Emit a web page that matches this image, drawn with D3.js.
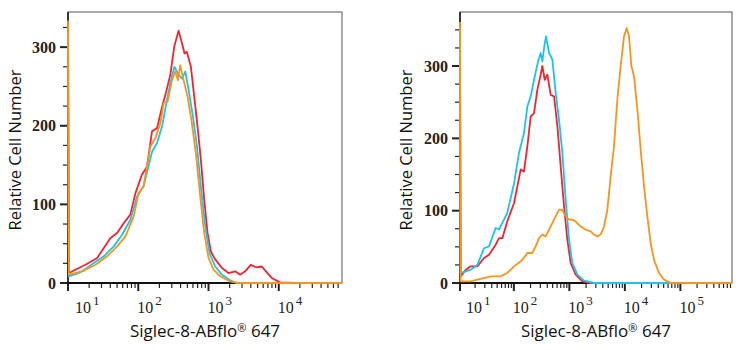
<!DOCTYPE html>
<html>
<head>
<meta charset="utf-8">
<script src="https://cdn.jsdelivr.net/npm/d3@7"></script>
<style>
  body { margin: 0; background: #fff; }
  svg { display: block; }
</style>
</head>
<body>
<svg id="chart" width="742" height="350"></svg>
<script>
// histogram data: [intensity, relative cell number]
const leftRed = [[10,330],[10.3,12.7],[17.7,23.3],[26,31.8],[40,57],[50,63.5],[62,76],[77,87],[91,114],[113,138],[133,148],[157,193],[185,197],[218,224],[243,239],[286,265],[326,301],[375,321],[419,305],[456,292],[492,294],[561,275],[626,237],[698,199],[778,157],[868,106],[968,64],[1080,40],[1244,30],[1548,19],[1925,12.7],[2393,14.8],[2818,10.6],[3318,14.8],[3990,23],[4746,20],[5727,21],[6745,13.5],[7940,6.4],[10420,0.8],[16140,0],[79000,0]];
const leftCyan = [[10,320],[10.3,8.5],[15,13.5],[23.3,25.4],[32.3,34],[44.8,46.6],[58.8,61.4],[77.3,80.5],[96,110],[119,123],[157,167],[185,178],[218,199],[256,233],[286,254],[326,275],[375,265],[419,260],[467,269],[520,246],[600,212],[684,174],[778,123],[898,72],[1035,38],[1244,21],[1548,10.6],[2032,3.4],[2529,0],[79000,0]];
const leftOrange = [[10,334],[10.3,10.6],[15.9,14.8],[24.6,23.3],[36,34],[50,46.6],[65.6,59.3],[86,84.7],[101,114],[119,123],[149,174],[175,184],[206,203],[230,229],[262,231],[302,258],[337,269],[367,258],[396,277],[442,258],[504,237],[580,203],[668,161],[762,110],[868,64],[1000,32],[1180,17],[1466,8.5],[2032,2],[2672,0],[79000,0]];

const rightRed = [[10.7,350],[11,9.2],[13.6,18.4],[16.7,23],[22,23],[29,34.6],[35.7,39],[47,53],[54,62],[62,62],[76,85],[101,110.6],[133,157],[152,154],[175,189],[201,230],[231,235],[265,267],[304,288],[326,300],[360,281],[402,288],[461,260],[530,258],[608,217],[698,161],[802,106],[920,60],[1057,27.6],[1300,11.5],[1714,2.3],[2421,0],[851000,0]];
const rightCyan = [[10.7,355],[11,13.8],[13.6,16],[16.7,18.4],[22,25],[29,48],[35.7,50.7],[47,76],[54,74],[66.5,87.6],[76,96.8],[101,138],[124,180],[152,207],[175,244],[201,258],[231,281],[272,306],[304,318],[326,306],[350,325],[380,341],[431,318],[494,309],[567,263],[651,226],[748,180],[859,115],[986,60],[1132,27.6],[1393,11.5],[1836,3.2],[2780,0],[851000,0]];
const rightOrange = [[10.7,361],[11,2.3],[16.7,2.3],[22,4.6],[29,6.9],[38,9.2],[58,9.2],[76,13.8],[101,23],[133,30],[152,34.6],[175,41.5],[215,41.5],[247,50.7],[284,62],[326,67],[375,64.5],[431,73.7],[494,83],[567,92],[651,101],[748,101],[859,92],[986,87.6],[1132,87.6],[1300,85],[1600,78],[1968,73.7],[2421,71.4],[2780,67],[3190,64.5],[3660,67],[4207,78],[4830,101],[5546,147],[6368,189],[7311,253],[8395,300],[9660,341],[10790,352.5],[11890,341],[13090,300],[14620,286],[16790,240],[19280,184],[22130,134],[25410,92],[29170,55],[33500,32],[41210,13.8],[50700,4.6],[66830,0],[851000,0]];

const yTicks = [0, 100, 200, 300];
const leftExps = [1, 2, 3, 4];
const rightExps = [1, 2, 3, 4, 5];

const colors = { red: '#f5222d', cyan: '#1cc3ef', orange: '#f7941d' };
const yTitle = 'Relative Cell Number';

const svg = d3.select('#chart');

function drawPanel(cfg) {
    const x = d3.scaleLog().domain(cfg.xDomain).range([cfg.left, cfg.right]);
    const y = d3.scaleLinear().domain(cfg.yDomain).range([cfg.bottom, cfg.top]);
    const g = svg.append('g');

    g.append('clipPath').attr('id', cfg.id + 'clip')
        .append('rect')
        .attr('x', cfg.left - 1).attr('y', cfg.top)
        .attr('width', cfg.right - cfg.left + 1).attr('height', cfg.bottom - cfg.top + 1);

    // frame
    g.append('rect')
        .attr('x', cfg.left).attr('y', cfg.top)
        .attr('width', cfg.right - cfg.left).attr('height', cfg.bottom - cfg.top)
        .attr('fill', 'none').attr('stroke', '#7a7a7a').attr('stroke-width', 1.3);

    // y ticks (major every 100, minor every 25)
    const yMinor = d3.range(0, cfg.yDomain[1], 25);
    g.selectAll('line.ytick').data(yMinor).enter().append('line')
        .attr('x1', (d) => cfg.left - (d % 100 === 0 ? 8 : 5))
        .attr('x2', cfg.left)
        .attr('y1', (d) => y(d)).attr('y2', (d) => y(d))
        .attr('stroke', '#222')
        .attr('stroke-width', (d) => d % 100 === 0 ? 2 : 1.2);
    g.selectAll('text.ylab').data(yTicks).enter().append('text')
        .attr('x', cfg.left - 12)
        .attr('y', (d) => y(d))
        .attr('dy', '0.35em')
        .attr('text-anchor', 'end')
        .attr('font-family', 'Liberation Serif, serif')
        .attr('font-weight', 'bold')
        .attr('font-size', '16px')
        .attr('fill', '#222')
        .text((d) => d);

    // x ticks: log minor ticks, tall at powers of ten
    const isMajor = (d) => Math.abs(Math.log10(d) - Math.round(Math.log10(d))) < 1e-9;
    const xt = x.ticks();
    g.selectAll('line.xtick').data(xt).enter().append('line')
        .attr('x1', (d) => x(d)).attr('x2', (d) => x(d))
        .attr('y1', cfg.bottom)
        .attr('y2', (d) => cfg.bottom + (isMajor(d) ? 8 : 5))
        .attr('stroke', '#222')
        .attr('stroke-width', (d) => isMajor(d) ? 2 : 1.2);
    g.append('line')
        .attr('x1', cfg.left).attr('x2', cfg.left)
        .attr('y1', cfg.bottom).attr('y2', cfg.bottom + 8)
        .attr('stroke', '#222').attr('stroke-width', 2);

    const labs = g.selectAll('text.xlab').data(cfg.exps).enter().append('text')
        .attr('x', (d) => Math.max(x(Math.pow(10, d)) - 1, cfg.left + cfg.firstPad))
        .attr('y', 313)
        .attr('font-family', 'Liberation Serif, serif')
        .attr('font-size', '16px')
        .attr('fill', '#222');
    labs.append('tspan').text('10');
    labs.append('tspan').attr('dx', 2).attr('dy', -8).attr('font-size', '13px').text((d) => d);

    // axis lines
    g.append('line')
        .attr('x1', cfg.left).attr('x2', cfg.right)
        .attr('y1', cfg.bottom).attr('y2', cfg.bottom)
        .attr('stroke', '#111').attr('stroke-width', 2);
    g.append('line')
        .attr('x1', cfg.left).attr('x2', cfg.left)
        .attr('y1', cfg.top).attr('y2', cfg.bottom)
        .attr('stroke', '#111').attr('stroke-width', 1.5);

    // histograms
    const line = d3.line().x((d) => x(d[0])).y((d) => y(d[1]));
    const series = [[cfg.red, colors.red], [cfg.cyan, colors.cyan], [cfg.orange, colors.orange]];
    g.append('g').attr('clip-path', `url(#${cfg.id}clip)`)
        .selectAll('path').data(series).enter().append('path')
        .attr('d', (d) => line(d[0]))
        .attr('fill', 'none')
        .attr('stroke', (d) => d[1])
        .attr('stroke-width', 1.8)
        .attr('stroke-linejoin', 'round');

    // titles
    const xt2 = g.append('text')
        .attr('x', (cfg.left + cfg.right) / 2)
        .attr('y', 337)
        .attr('text-anchor', 'middle')
        .attr('font-family', 'Open Sans, sans-serif')
        .attr('font-size', '17px')
        .attr('fill', '#111');
    xt2.append('tspan').text('Siglec-8-ABflo');
    xt2.append('tspan').attr('font-size', '11px').attr('dy', -5).text('\u00ae');
    xt2.append('tspan').attr('dy', 5).text(' 647');
    g.append('text')
        .attr('transform', `translate(${cfg.yTitleX}, 150) rotate(-90)`)
        .attr('text-anchor', 'middle')
        .attr('font-family', 'Open Sans, sans-serif')
        .attr('font-size', '16.5px')
        .attr('fill', '#111')
        .text(yTitle);
}

drawPanel({
    id: 'l', left: 68, right: 342, top: 12, bottom: 283,
    xDomain: [10, Math.pow(10, 4.9)], yDomain: [0, 344.7],
    exps: leftExps, firstPad: 7, yTitleX: 21,
    red: leftRed, cyan: leftCyan, orange: leftOrange
});
drawPanel({
    id: 'r', left: 460, right: 732, top: 12, bottom: 283,
    xDomain: [Math.pow(10, 1.03), Math.pow(10, 5.93)], yDomain: [0, 374.7],
    exps: rightExps, firstPad: 6, yTitleX: 412,
    red: rightRed, cyan: rightCyan, orange: rightOrange
});
</script>
</body>
</html>
